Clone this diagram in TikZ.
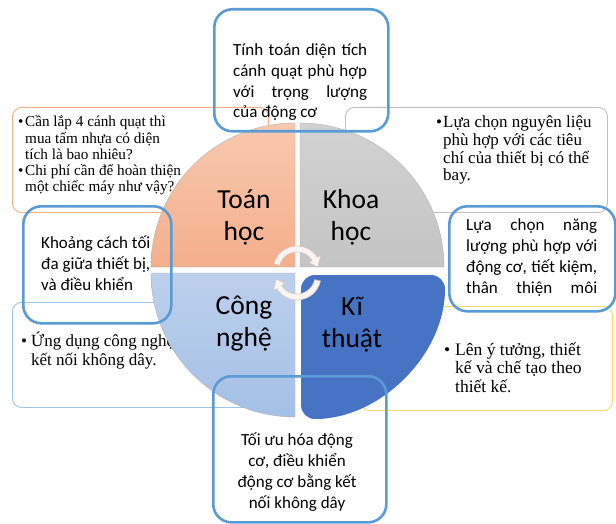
\documentclass[tikz,border=0pt]{standalone}
\usepackage{fontspec}
\setmainfont{Liberation Serif}
\newfontfamily\calibri{Carlito}
\usetikzlibrary{positioning,calc}

\definecolor{boxblue}{HTML}{5B9BD5}
\definecolor{orangeline}{HTML}{F4B183}
\definecolor{grayline}{HTML}{BFBFBF}
\definecolor{lblueline}{HTML}{9DC3E6}
\definecolor{yellowline}{HTML}{FFD966}
\definecolor{toantop}{HTML}{F8C8AF}
\definecolor{toanbot}{HTML}{F4AF8C}
\definecolor{khoatop}{HTML}{D2D2D2}
\definecolor{khoabot}{HTML}{C4C4C4}
\definecolor{congtop}{HTML}{BCD0EC}
\definecolor{congbot}{HTML}{A5C0E6}
\definecolor{kifill}{HTML}{4673C4}
\definecolor{arrowfill}{HTML}{FBF4F2}
\definecolor{arrowline}{HTML}{D6C4BF}

\newcommand\bul[1][7pt]{\makebox[#1][l]{\textbullet}}
\newcommand\jline[2]{\makebox[#1][s]{#2}}

\begin{document}
\begin{tikzpicture}[
    x=1pt, y=-1pt,
    thinbox/.style={
        draw,
        fill=white,
        rounded corners=9pt,
        line width=0.9pt,
        anchor=north west,
        inner sep=0pt
    },
    bluebox/.style={
        draw=boxblue,
        rounded corners=18pt,
        line width=2.6pt,
        anchor=north west,
        inner sep=0pt
    },
    serif/.style={
        anchor=base west,
        inner sep=0pt,
        align=left,
        font=\fontsize{17}{17.8}\selectfont
    },
    sans/.style={
        anchor=base west,
        inner sep=0pt,
        align=left,
        font=\calibri\fontsize{17}{20.7}\selectfont
    },
    quadlabel/.style={
        align=center,
        inner sep=0pt,
        anchor=base,
        font=\calibri\fontsize{27.5}{32}\selectfont
    },
    quad/.style={
        draw=gray!60,
        line width=0.4pt
    },
    cyc/.style={
        fill=arrowfill,
        draw=arrowline,
        line width=0.6pt
    }
]
\useasboundingbox (0,0) rectangle (616,524);

% Thin outer boxes (text placed by its last baseline)
\node[thinbox, draw=orangeline, minimum width=256pt, minimum height=105pt] (toanbox) at (12,107) {};
\node[thinbox, draw=grayline, minimum width=262pt, minimum height=105pt] (khoabox) at (345,107) {};
\node[thinbox, draw=lblueline, minimum width=260pt, minimum height=105pt] (congbox) at (12,302) {};
\node[thinbox, draw=yellowline, minimum width=252pt, minimum height=104pt] (kibox) at (360,306) {};

\node[serif, font=\fontsize{15.2}{16.3}\selectfont] (toannote) at (18,192)
    {\bul Cần lắp 4 cánh quạt thì\\\hspace*{7pt}mua tấm nhựa có diện\\\hspace*{7pt}tích là bao nhiêu?\\\bul Chi phí cần để hoàn thiện\\\hspace*{7pt}một chiếc máy như vậy?};
\node[serif] (khoanote) at (436,181)
    {\bul Lựa chọn nguyên liệu\\\hspace*{7pt}phù hợp với các tiêu\\\hspace*{7pt}chí của thiết bị có thể\\\hspace*{7pt}bay.};
\node[serif, font=\fontsize{17}{18.5}\selectfont] (congnote) at (21,365)
    {\bul[10pt]Ứng dụng công nghệ\\\hspace*{10pt}kết nối không dây.};
\node[serif, font=\fontsize{17.5}{18.5}\selectfont] (kinote) at (444,392)
    {\bul[11pt]Lên ý tưởng, thiết\\\hspace*{11pt}kế và chế tạo theo\\\hspace*{11pt}thiết kế.};

% Four quadrants
\shade[quad, top color=toantop, bottom color=toanbot] (295,267) -- ++(-144,0) arc[start angle=180, end angle=270, radius=144] -- cycle;
\shade[quad, top color=khoatop, bottom color=khoabot] (300,267) -- ++(0,-144) arc[start angle=270, end angle=360, radius=144] -- cycle;
\shade[quad, top color=congtop, bottom color=congbot] (295,273) -- ++(-144,0) arc[start angle=180, end angle=90, radius=144] -- cycle;
\fill[kifill, rounded corners=14pt] (301,275) -- ++(144,0) arc[start angle=0, end angle=90, radius=144] -- cycle;

% Cycle arrows
\coordinate (hubA) at (297,270);
\coordinate (hubB) at (297,276);
\filldraw[cyc] ($(hubA)+(195:24)$) arc[start angle=195, end angle=328, radius=24]
    -- ($(hubA)+(328:28)$) -- ($(hubA)+(352:21)$) -- ($(hubA)+(328:14)$)
    -- ($(hubA)+(328:18)$) arc[start angle=328, end angle=195, radius=18] -- cycle;
\filldraw[cyc] ($(hubB)+(12:24)$) arc[start angle=12, end angle=148, radius=24]
    -- ($(hubB)+(148:28)$) -- ($(hubB)+(172:21)$) -- ($(hubB)+(148:14)$)
    -- ($(hubB)+(148:18)$) arc[start angle=148, end angle=12, radius=18] -- cycle;

\node[quadlabel] (toan) at (244,240) {Toán\\học};
\node[quadlabel] (khoa) at (351,240) {Khoa\\học};
\node[quadlabel] (cong) at (244,346) {Công\\nghệ};
\node[quadlabel] (ki) at (352,347) {Kĩ\\thuật};

% Blue outline boxes
\node[bluebox, minimum width=174pt, minimum height=122pt] (topbox) at (213,8) {};
\node[bluebox, minimum width=148pt, minimum height=117pt] (leftbox) at (22,205) {};
\node[bluebox, minimum width=166pt, minimum height=105pt] (rightbox) at (448,205) {};
\node[bluebox, minimum width=173pt, minimum height=146pt] (bottombox) at (212,375) {};

\node[sans] (toptext) at (233,118)
    {\jline{134pt}{Tính toán diện tích}\\\jline{134pt}{cánh quạt phù hợp}\\\jline{134pt}{với trọng lượng}\\của động cơ};
\node[sans, font=\calibri\fontsize{17}{21}\selectfont] (lefttext) at (41,290)
    {Khoảng cách tối\\đa giữa thiết bị,\\và điều khiển};
\node[sans] (righttext) at (466,293)
    {\jline{131pt}{Lựa chọn năng}\\\jline{131pt}{lượng phù hợp với}\\\jline{131pt}{động cơ, tiết kiệm,}\\\jline{131pt}{thân thiện môi}};
\node[sans, font=\calibri\fontsize{17}{21}\selectfont, align=center, anchor=base] (bottomtext) at (297,508)
    {Tối ưu hóa động\\cơ, điều khiển\\động cơ bằng kết\\nối không dây};

\end{tikzpicture}
\end{document}
